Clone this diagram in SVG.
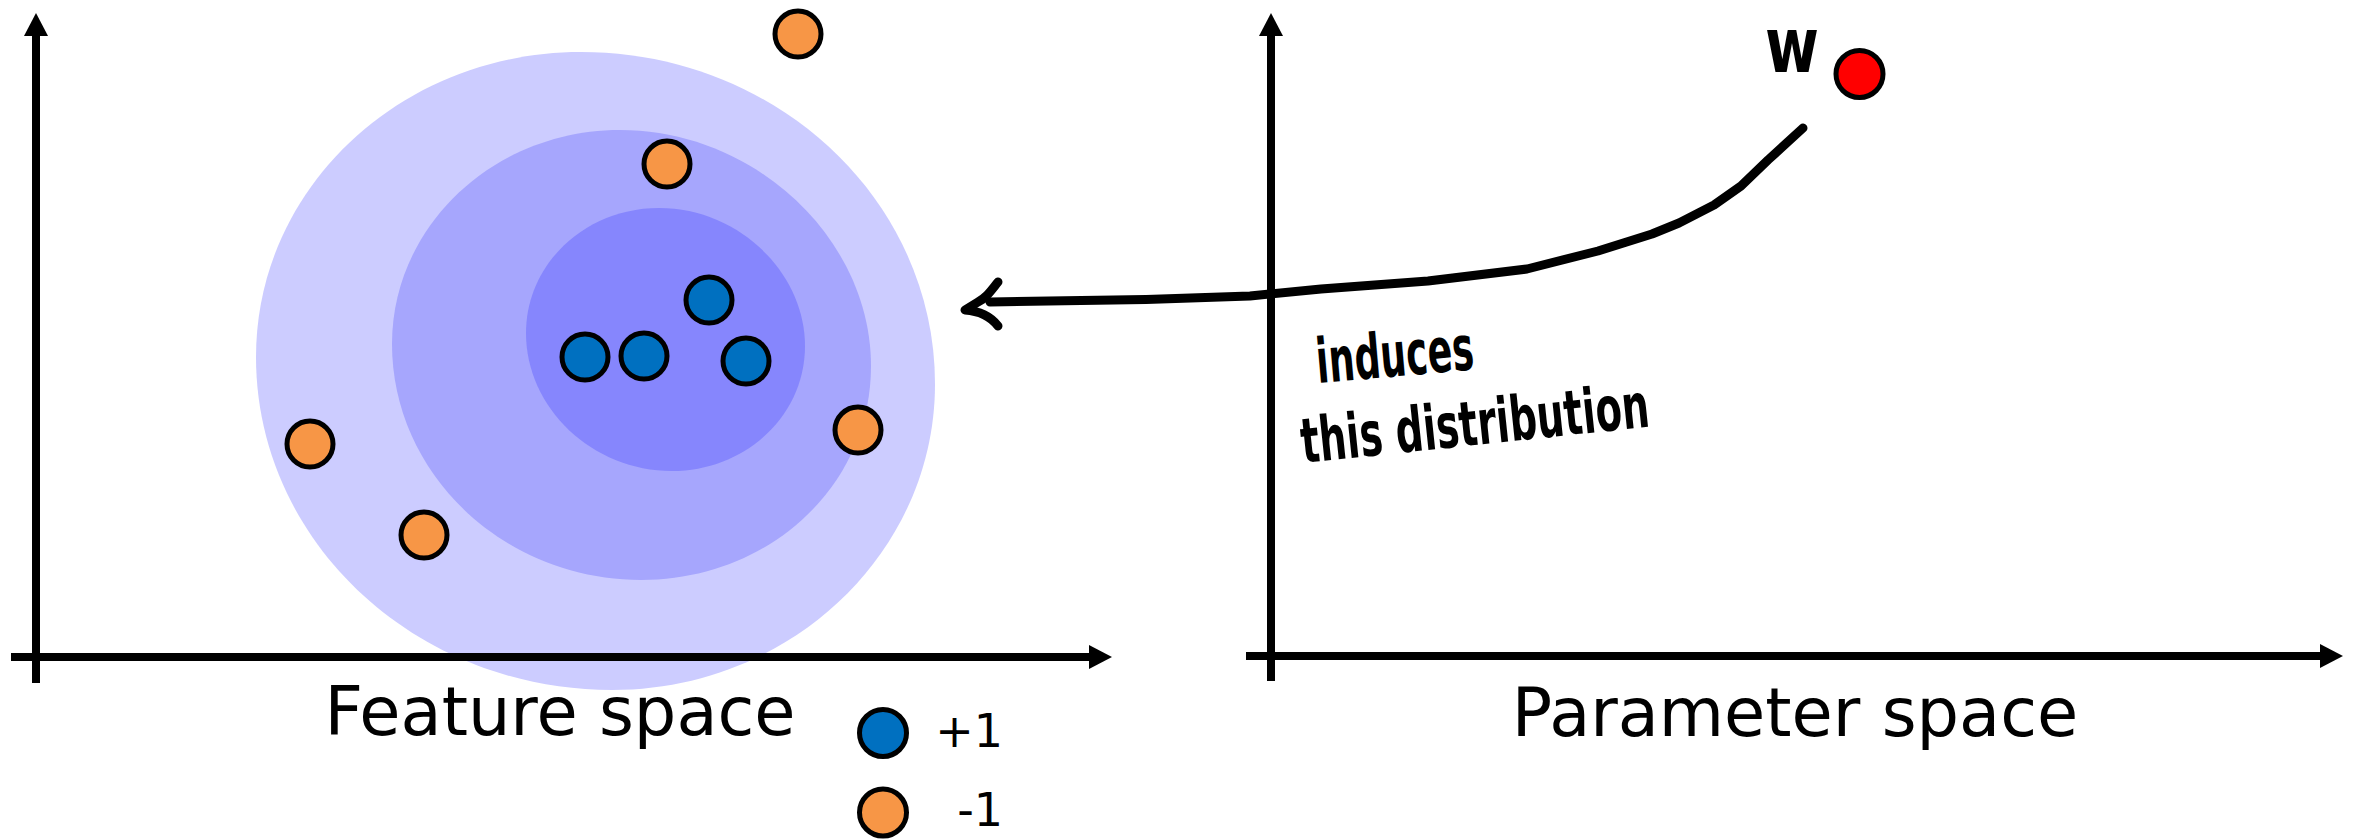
<svg xmlns="http://www.w3.org/2000/svg" width="2364" height="839" viewBox="0 0 2364 839">
<style>
.axis{stroke:#000;stroke-width:8;fill:none;marker-end:url(#arr)}
.pt{stroke:#000;stroke-width:5}
.pos{fill:#0070c0}
.neg{fill:#f79646}
.lbl{font-family:"DejaVu Sans","Liberation Sans",sans-serif;fill:#000}
.hand{font-family:"DejaVu Sans","Liberation Sans",sans-serif;font-weight:bold;fill:#000}
.curve{stroke:#000;stroke-width:9;fill:none;stroke-linejoin:round;stroke-linecap:round}
</style>
<defs>
<marker id="arr" markerUnits="userSpaceOnUse" markerWidth="24" markerHeight="24" viewBox="0 0 24 24" refX="1" refY="12" orient="auto">
<path d="M0,0 L23,12 L0,24 z" fill="#000"/>
</marker>
</defs>
<rect width="2364" height="839" fill="#fff"/>
<g id="distribution">
<path id="blob-outer" fill="#ccccff" d="M256,357 C256,188 401,52 581,52 C776,52 935,200 935,384 C935,553 790,690 612,690 C415,690 256,541 256,357 Z"/>
<path id="blob-middle" fill="#a6a6fd" d="M392,344 C392,226 494,130 620,130 C756,130 871,240 871,366 C871,486 769,580 641,580 C503,580 392,473 392,344 Z"/>
<path id="blob-inner" fill="#8686fd" d="M526,333 C526,264 585,208 659,208 C740,208 805,274 805,346 C805,416 745,471 672,471 C592,471 526,408 526,333 Z"/>
</g>
<g id="feature-axes">
<line class="axis" x1="11" y1="657" x2="1090" y2="657"/>
<line class="axis" x1="36" y1="683" x2="36" y2="35"/>
</g>
<g id="parameter-axes">
<line class="axis" x1="1246" y1="656" x2="2321" y2="656"/>
<line class="axis" x1="1271" y1="681" x2="1271" y2="35"/>
</g>
<g id="points">
<circle class="pt neg" cx="798" cy="34" r="23"/>
<circle class="pt neg" cx="667" cy="164" r="23"/>
<circle class="pt pos" cx="709" cy="300" r="23"/>
<circle class="pt pos" cx="585" cy="357" r="23"/>
<circle class="pt pos" cx="644" cy="356" r="23"/>
<circle class="pt pos" cx="746" cy="361" r="23"/>
<circle class="pt neg" cx="858" cy="430" r="23"/>
<circle class="pt neg" cx="310" cy="444" r="23"/>
<circle class="pt neg" cx="424" cy="535" r="23"/>
</g>
<g id="w-point">
<circle class="pt" fill="#ff0000" cx="1859.5" cy="74" r="23.5"/>
<text class="hand" x="1765" y="72" font-size="76" textLength="54" lengthAdjust="spacingAndGlyphs">w</text>
</g>
<g id="connectors">
<polyline class="curve" points="1803,128 1768,160 1741,186 1714,205 1679,223 1652,234 1598,251 1527,269 1428,281 1321,289 1250,296 1146,299.5 990,302"/>
<path class="curve" d="M998,282 C990,292 986,298 978,302 L965,310 C980,311 991,317 998,326"/>
</g>
<g id="annotation">
<text class="hand" transform="translate(1318,383) rotate(-5)" font-size="62" textLength="158" lengthAdjust="spacingAndGlyphs">induces</text>
<text class="hand" transform="translate(1303,463) rotate(-6)" font-size="62" textLength="350" lengthAdjust="spacingAndGlyphs">this distribution</text>
</g>
<g id="labels">
<text class="lbl" x="560" y="735" font-size="67" text-anchor="middle">Feature space</text>
<text class="lbl" x="1795" y="736" font-size="67" text-anchor="middle">Parameter space</text>
</g>
<g id="legend">
<circle class="pt pos" cx="883" cy="733" r="23.5"/>
<text class="lbl" x="1003" y="747" font-size="46" text-anchor="end">+1</text>
<circle class="pt neg" cx="883" cy="812.5" r="23.5"/>
<text class="lbl" x="1003" y="826" font-size="46" text-anchor="end">-1</text>
</g>
</svg>
